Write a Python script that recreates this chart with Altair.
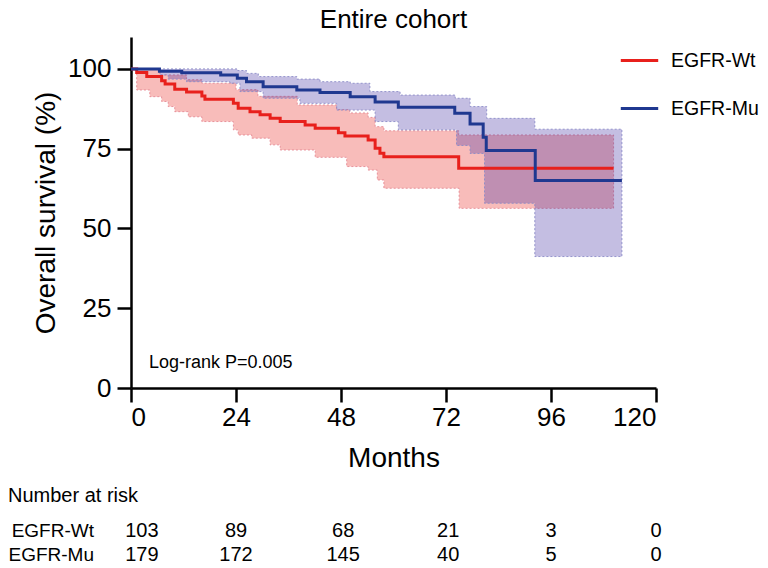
import altair as alt
import pandas as pd

# ---------------- data ----------------
groups = ["EGFR-Wt", "EGFR-Mu"]
line_colors = ["#E8201C", "#1F3890"]

# EGFR-Wt Kaplan-Meier curve (months, survival %)
wt_t = [0, 1.3, 3.6, 7.0, 7.8, 10.0, 12.7, 16.2, 16.9, 23.4, 24.5, 27.2, 29.5, 31.8,
        34.1, 39.8, 42.1, 47.4, 48.9, 54.2, 55.8, 56.9, 57.8, 74.9, 110.3]
wt_s = [100, 98.9, 97.6, 96.3, 95.3, 93.6, 92.8, 91.5, 90.5, 89.2, 87.7, 86.6, 85.6, 84.5,
        83.5, 82.4, 81.4, 80.0, 79.0, 77.7, 75.1, 73.6, 72.5, 68.9, 68.9]
# EGFR-Wt confidence band
wt_up_t = [0, 6.6, 12.7, 16.2, 24.0, 29.0, 38.0, 47.0, 50.0, 54.2, 55.8, 57.8, 74.9, 110.3]
wt_up_v = [100, 98.1, 96.6, 95.5, 93.5, 91.4, 88.7, 87.2, 86.2, 84.8, 81.9, 80.6, 79.3, 79.3]
wt_lo_t = [0, 1.3, 4.3, 7.0, 8.5, 10.0, 13.1, 16.2, 23.4, 24.5, 27.6, 31.8, 34.1, 42.1,
           49.3, 54.2, 56.3, 57.8, 75.0, 110.3]
wt_lo_v = [100, 93.4, 91.3, 89.8, 88.2, 86.6, 85.0, 83.5, 80.9, 79.3, 78.3, 76.2, 74.6, 72.3,
           69.4, 68.3, 65.2, 62.6, 56.3, 56.3]

# EGFR-Mu Kaplan-Meier curve
mu_t = [0, 6.5, 11.6, 20.5, 24.3, 26.4, 30.2, 37.9, 43.2, 50.1, 55.8, 61.1, 74.0, 77.5,
        80.5, 81.2, 92.4, 112.2]
mu_s = [100, 99.3, 98.8, 98.1, 97.1, 96.0, 94.4, 93.4, 92.6, 91.3, 89.6, 88.0, 86.1, 82.7,
        78.6, 74.4, 65.0, 65.0]
# EGFR-Mu confidence band
mu_up_t = [0, 24.3, 26.4, 29.1, 37.9, 43.2, 50.1, 54.6, 61.5, 74.1, 77.5, 81.3, 92.3, 112.2]
mu_up_v = [100, 99.5, 98.6, 97.6, 96.8, 96.0, 95.5, 92.9, 91.8, 90.8, 88.2, 84.5, 81.1, 81.1]
mu_lo_t = [0, 6.6, 8.5, 12.7, 22.6, 24.9, 30.2, 38.6, 47.0, 55.8, 61.1, 74.4, 77.5, 80.8,
           92.3, 112.2]
mu_lo_v = [100, 98.1, 96.8, 96.0, 95.5, 92.9, 90.8, 89.2, 87.1, 83.5, 80.9, 76.0, 73.5, 57.9,
           41.2, 41.2]

# Number at risk table
risk_months = [2.5, 24, 48.5, 72.5, 96, 120]
wt_risk = [103, 89, 68, 21, 3, 0]
mu_risk = [179, 172, 145, 40, 5, 0]

x_ticks = [0, 24, 48, 72, 96, 120]
y_ticks = [0, 25, 50, 75, 100]

FONT = "Liberation Sans"


# ---------------- helpers building tables from the arrays ----------------
def step_at(ts, vs, t):
    val = vs[0]
    for ti, vi in zip(ts, vs):
        if ti <= t:
            val = vi
        else:
            break
    return val


def band_table(up_t, up_v, lo_t, lo_v):
    grid = sorted(set(up_t) | set(lo_t))
    return pd.DataFrame({
        "month": grid,
        "upper": [step_at(up_t, up_v, g) for g in grid],
        "lower": [step_at(lo_t, lo_v, g) for g in grid],
    })


def expand(ts, vs):
    pts = []
    for i in range(len(ts) - 1):
        pts.append((ts[i], vs[i]))
        pts.append((ts[i + 1], vs[i]))
    return pts


def outline_table(up_t, up_v, lo_t, lo_v):
    up = expand(up_t, up_v)
    lo = expand(lo_t, lo_v)
    pts = up + lo[::-1] + [up[0]]
    return pd.DataFrame({"month": [p[0] for p in pts],
                         "surv": [p[1] for p in pts],
                         "idx": list(range(len(pts)))})


curves = pd.concat([
    pd.DataFrame({"month": wt_t, "surv": wt_s, "group": groups[0]}),
    pd.DataFrame({"month": mu_t, "surv": mu_s, "group": groups[1]}),
])

xscale = alt.Scale(domain=[0, 120], nice=False, zero=False)
yscale = alt.Scale(domain=[0, 110], nice=False)
xaxis = alt.Axis(values=x_ticks, title="Months", labelPadding=2, titlePadding=14)
yaxis = alt.Axis(values=y_ticks, title="Overall survival (%)", labelPadding=6, titlePadding=7)


def X(field):
    return alt.X(field, type="quantitative", scale=xscale, axis=xaxis)


def Y(field):
    return alt.Y(field, type="quantitative", scale=yscale, axis=yaxis)


def band_layers(up_t, up_v, lo_t, lo_v, fill, edge):
    area = alt.Chart(band_table(up_t, up_v, lo_t, lo_v)).mark_area(
        interpolate="step-after", color=fill, opacity=0.3
    ).encode(x=X("month"), y=Y("lower"), y2="upper")
    edge_line = alt.Chart(outline_table(up_t, up_v, lo_t, lo_v)).mark_line(
        color=edge, strokeWidth=1, strokeDash=[2, 2], opacity=0.9
    ).encode(x=X("month"), y=Y("surv"), order="idx:Q")
    return area + edge_line


wt_band = band_layers(wt_up_t, wt_up_v, wt_lo_t, wt_lo_v, "#E8201C", "#E58A94")
mu_band = band_layers(mu_up_t, mu_up_v, mu_lo_t, mu_lo_v, "#3C28A0", "#8C8CC8")

lines = alt.Chart(curves).mark_line(interpolate="step-after", strokeWidth=3).encode(
    x=X("month"),
    y=Y("surv"),
    color=alt.Color(
        "group:N",
        scale=alt.Scale(domain=groups, range=line_colors),
        legend=alt.Legend(
            title=None, orient="none", legendX=488, legendY=3,
            symbolType="stroke", symbolSize=1400, symbolStrokeWidth=3,
            labelFontSize=19.5, labelFont=FONT, labelColor="black",
            labelOffset=11, rowPadding=18, padding=0,
        ),
    ),
    order=alt.Order("group:N", sort="ascending"),
)

logrank = alt.Chart(pd.DataFrame({"month": [4.1], "surv": [7.7], "label": ["Log-rank P=0.005"]})).mark_text(
    align="left", baseline="middle", fontSize=18, font=FONT, color="black"
).encode(x=X("month"), y=Y("surv"), text="label:N")

# Number at risk table (below the plot)
risk_df = pd.concat([
    pd.DataFrame({"month": risk_months, "n": wt_risk, "row": 0}),
    pd.DataFrame({"month": risk_months, "n": mu_risk, "row": 1}),
])
risk_row1 = alt.Chart(risk_df[risk_df.row == 0]).mark_text(
    align="center", baseline="alphabetic", fontSize=20, font=FONT, color="black"
).encode(x=X("month"), y=alt.value(500), text="n:Q")
risk_row2 = alt.Chart(risk_df[risk_df.row == 1]).mark_text(
    align="center", baseline="alphabetic", fontSize=20, font=FONT, color="black"
).encode(x=X("month"), y=alt.value(524), text="n:Q")

risk_labels = alt.Chart(pd.DataFrame({"label": groups, "ypix": [500, 524]})).mark_text(
    align="right", baseline="alphabetic", fontSize=19, font=FONT, color="black"
).encode(x=alt.value(-37), y=alt.Y("ypix:Q", scale=None), text="label:N")

risk_title = alt.Chart(pd.DataFrame({"label": ["Number at risk"]})).mark_text(
    align="left", baseline="alphabetic", fontSize=20, font=FONT, color="black"
).encode(x=alt.value(-123), y=alt.value(465), text="label:N")

chart = alt.layer(
    wt_band, mu_band, lines, logrank, risk_row1, risk_row2, risk_labels, risk_title
).properties(
    width=525,
    height=351,
    title=alt.TitleParams("Entire cohort", fontSize=26, font=FONT, fontWeight="normal",
                          anchor="middle", color="black", offset=4),
    autosize=alt.AutoSizeParams(type="none"),
    padding={"left": 123, "top": 29, "right": 104, "bottom": 180},
).configure_view(stroke=None).configure_axis(
    grid=False, domainColor="black", domainWidth=2.5, tickColor="black", tickWidth=2.5,
    tickSize=14, labelFontSize=26, titleFontSize=28, labelFont=FONT, titleFont=FONT,
    titleFontWeight="normal", labelColor="black", titleColor="black",
)

chart.save("out.html", embed_options={"renderer": "svg", "actions": False})
